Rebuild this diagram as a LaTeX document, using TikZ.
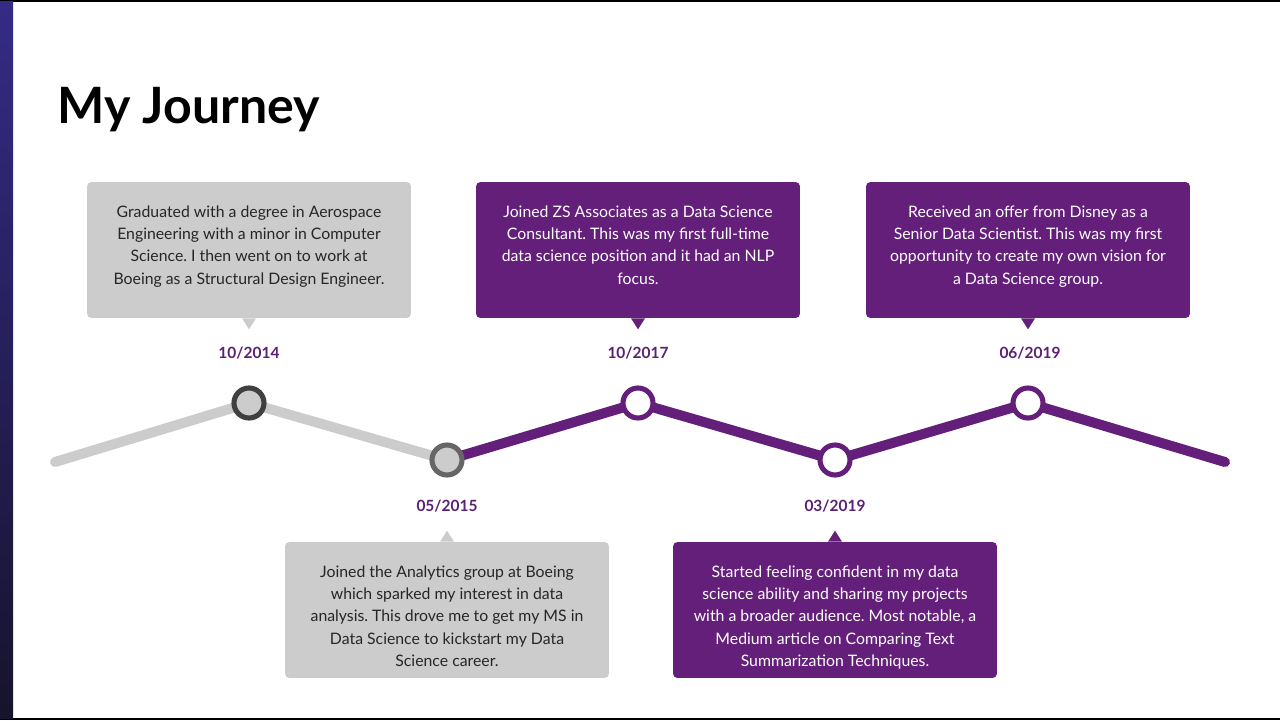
\documentclass[tikz,border=0pt]{standalone}
\usepackage{fontspec}
\setmainfont{Lato}
\usetikzlibrary{calc,backgrounds}
\definecolor{jpurple}{HTML}{641F7A}
\definecolor{jdate}{HTML}{5B1F74}
\definecolor{jgray}{HTML}{CCCCCC}
\definecolor{jbar}{HTML}{352B86}
\definecolor{jbarend}{HTML}{16132C}
\newcommand{\cardlines}[1]{\parbox[c][1.95cm][t]{6cm}{\centering\strut #1}}
\frenchspacing

\begin{document}
\begin{tikzpicture}[
  x=0.02cm, y=-0.02cm,
  every node/.style={font=\fontsize{9}{12.8}\selectfont},
  card/.style={rounded corners=2.5pt, minimum width=6.48cm, minimum height=2.72cm, inner sep=0pt},
  graycard/.style={card, fill=jgray, text=black!85},
  purplecard/.style={card, fill=jpurple, text=white},
  date/.style={text=jdate, font=\fontsize{8.8}{11}\selectfont\bfseries},
  stop/.style={circle, minimum size=0.6cm, line width=2.9pt, inner sep=0pt},
  track/.style={line width=5.7pt, line cap=round, line join=round}
]
  \useasboundingbox (0,0) rectangle (1280,720);
  % frame
  \fill[black] (0,0) rectangle (1280,1.5);
  \fill[black] (0,718) rectangle (1280,720);
  \shade[top color=jbar, bottom color=jbarend] (0,1.5) rectangle (13,718);

  \node[anchor=base west, font=\fontsize{28.5}{34}\selectfont\bfseries] (title) at (51,123) {My Journey};

  % stops
  \coordinate (start) at (55,462);
  \coordinate (end) at (1225,462);
  \node[stop, draw=black!75, fill=jgray] (s1) at (249,403) {};
  \node[stop, draw=black!60, fill=jgray] (s2) at (447,460) {};
  \node[stop, draw=jpurple, fill=white] (s3) at (638,403) {};
  \node[stop, draw=jpurple, fill=white] (s4) at (835,460) {};
  \node[stop, draw=jpurple, fill=white] (s5) at (1028,403) {};
  \begin{scope}[on background layer]
    \draw[track, jgray] (start) -- (s1.center) -- (s2.center);
    \draw[track, jpurple] (s2.center) -- (s3.center) -- (s4.center) -- (s5.center) -- (end);
  \end{scope}

  % dates
  \node[date] (d1) at (249,353) {10/2014};
  \node[date] (d2) at (447,506) {05/2015};
  \node[date] (d3) at (638,353) {10/2017};
  \node[date] (d4) at (835,506) {03/2019};
  \node[date] (d5) at (1030,353) {06/2019};

  % cards
  \node[graycard] (c1) at (249,250) {\cardlines{Graduated with a degree in Aerospace\\
    Engineering with a minor in Computer\\ Science. I then went on to work at\\
    Boeing as a Structural Design Engineer.}};
  \node[purplecard] (c3) at (638,250) {\cardlines{Joined ZS Associates as a Data Science\\
    Consultant. This was my first full-time\\ data science position and it had an NLP\\ focus.}};
  \node[purplecard] (c5) at (1028,250) {\cardlines{Received an offer from Disney as a\\
    Senior Data Scientist. This was my first\\ opportunity to create my own vision for\\
    a Data Science group.}};
  \node[graycard] (c2) at (447,610) {\cardlines{Joined the Analytics group at Boeing\\
    which sparked my interest in data\\ analysis. This drove me to get my MS in\\
    Data Science to kickstart my Data\\ Science career.}};
  \node[purplecard] (c4) at (835,610) {\cardlines{Started feeling confident in my data\\
    science ability and sharing my projects\\ with a broader audience. Most notable, a\\
    Medium article on Comparing Text\\ Summarization Techniques.}};

  % tails
  \foreach \c/\col in {c1/jgray, c3/jpurple, c5/jpurple}
    \fill[\col] ($(\c.south)+(-7,0)$) -- ($(\c.south)+(0,11)$) -- ($(\c.south)+(7,0)$) -- cycle;
  \foreach \c/\col in {c2/jgray, c4/jpurple}
    \fill[\col] ($(\c.north)+(-7,0)$) -- ($(\c.north)+(0,-11)$) -- ($(\c.north)+(7,0)$) -- cycle;
\end{tikzpicture}
\end{document}
